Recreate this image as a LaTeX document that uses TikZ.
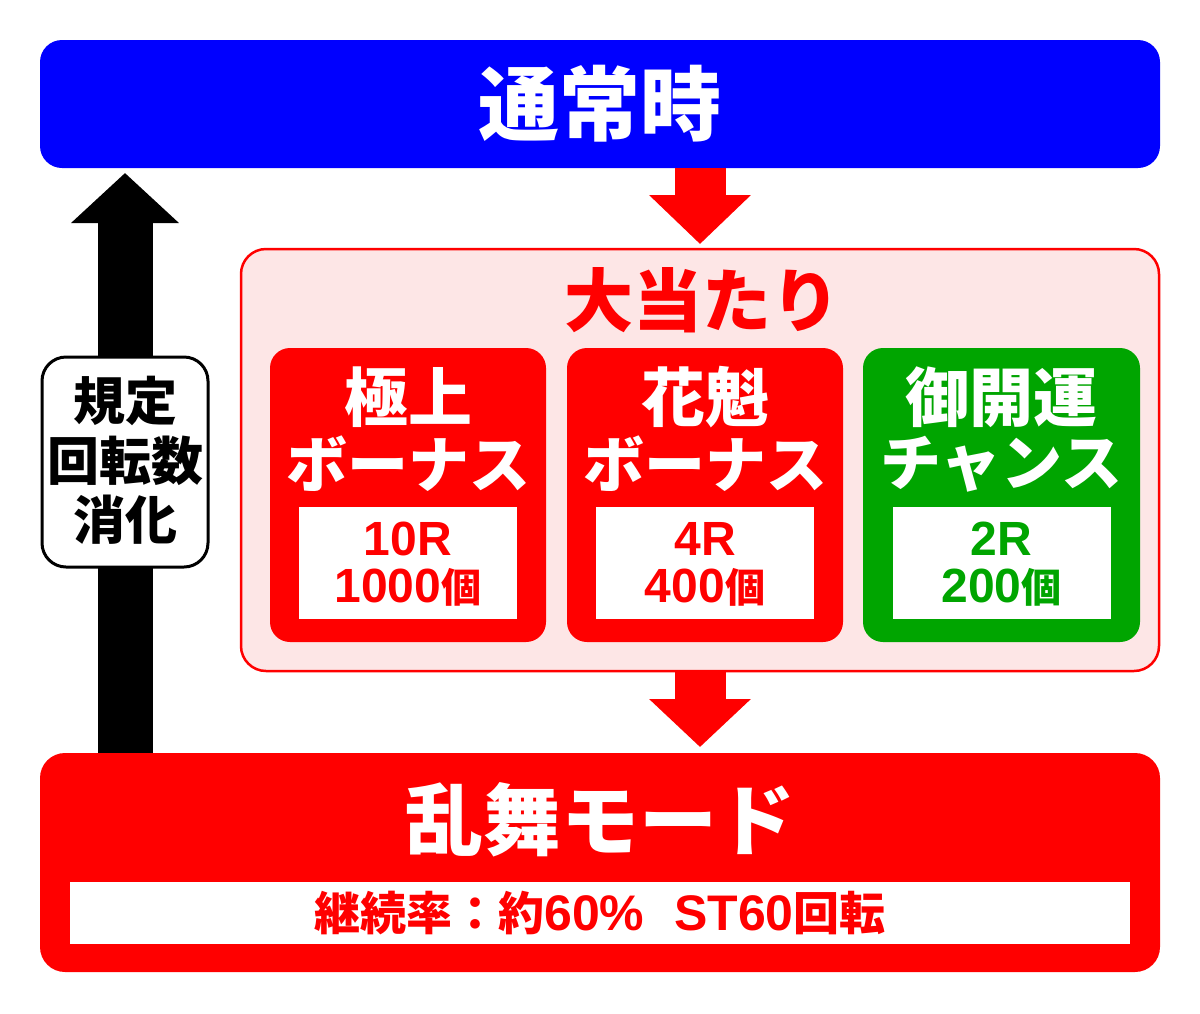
\documentclass[tikz,border=0pt]{standalone}
\usepackage{fontspec}
\newfontfamily\jp{Noto Sans CJK JP}
\newfontfamily\ar{Liberation Sans}
\usetikzlibrary{arrows.meta}
\definecolor{myblue}{RGB}{0,0,255}
\definecolor{myred}{RGB}{255,0,0}
\definecolor{mygreen}{RGB}{0,165,0}
\definecolor{mypink}{RGB}{253,230,230}
\newcommand\fsz[1]{\fontsize{#1}{#1}\selectfont}
\begin{document}
\begin{tikzpicture}[x=1pt,y=-1pt,
  panel/.style={inner sep=0pt, outer sep=0pt, rounded corners=#1},
  whitebox/.style={fill=white, inner sep=0pt, outer sep=0pt},
  txt/.style={inner sep=0pt, outer sep=0pt, font=\jp\bfseries},
  bigarrow/.style={line width=#1}
]
\useasboundingbox (0,0) rectangle (1200,1013);
\fill[white] (0,0) rectangle (1200,1013);
\coordinate (lx) at (125,0);
\coordinate (ax) at (700,0);

% top box
\node[panel=22pt, fill=myblue, minimum width=1120pt, minimum height=128pt] (top) at (600,104) {};
\node[txt, text=white, font=\jp\bfseries\fsz{81}] (toptxt) at (600,104) {通常時};

% pink box
\node[panel=25pt, fill=mypink, draw=myred, line width=2.5pt, minimum width=918pt, minimum height=422pt] (pink) at (700,460) {};
\node[txt, text=myred, font=\jp\bfseries\fsz{69}] (ttl) at (702,300) {大当たり};

% sub boxes
\node[panel=20pt, fill=myred, minimum width=276pt, minimum height=294pt] (b1) at (408,495) {};
\node[panel=20pt, fill=myred, minimum width=276pt, minimum height=294pt] (b2) at (705,495) {};
\node[panel=20pt, fill=mygreen, minimum width=277pt, minimum height=294pt] (b3) at (1001.5,495) {};

\node[whitebox, minimum width=218pt, minimum height=112pt] (w1) at (408,563) {};
\node[whitebox, minimum width=218pt, minimum height=112pt] (w2) at (705,563) {};
\node[whitebox, minimum width=218pt, minimum height=112pt] (w3) at (1001.5,563) {};

\node[txt, text=white, font=\jp\bfseries\fsz{64}] (t1a) at (408,397) {極上};
\node[txt, text=white, font=\jp\bfseries\fsz{61}] (t1b) at (408,464) {ボーナス};
\node[txt, text=white, font=\jp\bfseries\fsz{64}] (t2a) at (705,397) {花魁};
\node[txt, text=white, font=\jp\bfseries\fsz{61}] (t2b) at (705,464) {ボーナス};
\node[txt, text=white, font=\jp\bfseries\fsz{64}] (t3a) at (1001.5,397) {御開運};
\node[txt, text=white, font=\jp\bfseries\fsz{61}] (t3b) at (1001.5,464) {チャンス};

\node[txt, text=myred, font=\ar\bfseries\fsz{48}] (n1a) at (408,539) {10R};
\node[txt, text=myred, font=\ar\bfseries\fsz{48}] (n1b) at (408,587) {1000{\jp\bfseries\fsz{40}個}};
\node[txt, text=myred, font=\ar\bfseries\fsz{48}] (n2a) at (705,539) {4R};
\node[txt, text=myred, font=\ar\bfseries\fsz{48}] (n2b) at (705,587) {400{\jp\bfseries\fsz{40}個}};
\node[txt, text=mygreen, font=\ar\bfseries\fsz{48}] (n3a) at (1001.5,539) {2R};
\node[txt, text=mygreen, font=\ar\bfseries\fsz{48}] (n3b) at (1001.5,587) {200{\jp\bfseries\fsz{40}個}};

% bottom box
\node[panel=25pt, fill=myred, minimum width=1120pt, minimum height=219pt] (bot) at (600,862.5) {};
\node[txt, text=white, font=\jp\bfseries\fsz{78}] (bottxt) at (600,820) {乱舞モード};
\node[whitebox, minimum width=1060pt, minimum height=62pt] (bw) at (600,913) {};
\node[txt, text=myred, font=\jp\bfseries\fsz{46}] (btxt) at (600,913) {継続率：約{\ar\bfseries\fsz{50}60\%}\hspace{30pt}{\ar\bfseries\fsz{50}ST60}回転};

% arrows
\draw[myred, bigarrow=51pt, -{Triangle[width=99pt,length=49pt]}, shorten >=5pt] (top.south -| ax) -- (pink.north -| ax);
\draw[myred, bigarrow=51pt, -{Triangle[width=99pt,length=48pt]}, shorten >=6pt] (pink.south -| ax) -- (bot.north -| ax);
\draw[black, bigarrow=55pt, -{Triangle[width=105pt,length=50pt]}, shorten >=5pt] (bot.north -| lx) -- (top.south -| lx);

% label box
\node[panel=24pt, fill=white, draw=black, line width=3pt, minimum width=166pt, minimum height=210pt] (lbl) at (125,462) {};
\node[txt, text=black, font=\jp\bfseries\fsz{52}] (l1) at (125,401) {規定};
\node[txt, text=black, font=\jp\bfseries\fsz{52}] (l2) at (125,461) {回転数};
\node[txt, text=black, font=\jp\bfseries\fsz{52}] (l3) at (125,520) {消化};
\end{tikzpicture}
\end{document}
